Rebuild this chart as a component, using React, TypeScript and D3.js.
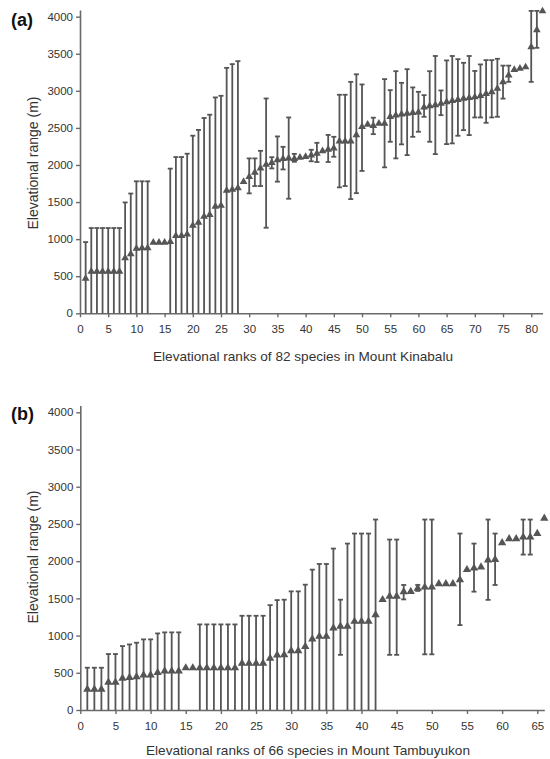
import React, { useEffect, useRef } from 'react';
import * as d3 from 'd3';

// (a) Mount Kinabalu: midpoint of each species' elevational range (m), ranked
const kinabaluMid = [
  470, 565, 565, 565, 565, 565, 565, 745, 800, 875,
  880, 880, 955, 955, 955, 965, 1045, 1045, 1065, 1185,
  1225, 1305, 1330, 1440, 1455, 1655, 1670, 1690, 1775, 1840,
  1900, 1955, 2005, 2030, 2066, 2085, 2090, 2085, 2100, 2110,
  2130, 2155, 2190, 2210, 2225, 2320, 2320, 2320, 2405, 2515,
  2545, 2530, 2560, 2560, 2650, 2670, 2685, 2695, 2705, 2710,
  2780, 2795, 2810, 2830, 2850, 2865, 2880, 2895, 2905, 2915,
  2935, 2960, 2985, 3030, 3120, 3210, 3285, 3300, 3320, 3590,
  3820, 4075,
];
// lower / upper limits of the range; null = no bar drawn
const kinabaluLow = [
  0, 0, 0, 0, 0, 0, 0, 0, 0, 0,
  0, 0, null, null, null, 0, 0, 0, 0, 0,
  0, 0, 0, 0, 0, 0, 0, 0, null, 1617,
  1716, 1716, 1154, 1954, 1775, 1940, 1545, 2043, null, null,
  2050, 2040, null, 2040, 2111, 1698, 1716, 1540, 1620, 1920,
  null, 2416, null, 1968, 2313, 2089, 2278, 2133, 2380, 2448,
  2650, 2313, 2147, 2672, 2282, 2291, 2394, 2470, 2403, 2641,
  2641, 2569, 2641, 2650, 2895, 3121, null, null, null, 3121,
  3580, null,
];
const kinabaluHigh = [
  960, 1150, 1150, 1150, 1150, 1150, 1150, 1495, 1615, 1780,
  1780, 1780, null, null, null, 1951, 2107, 2107, 2152, 2395,
  2473, 2634, 2678, 2911, 2933, 3310, 3360, 3400, null, 2089,
  2089, 2191, 2897, 2105, 2385, 2245, 2641, 2150, null, null,
  2205, 2299, null, 2405, 2380, 2947, 2947, 3121, 3223, 3086,
  null, 2638, null, 3158, 3009, 3265, 3108, 3292, 3046, 2987,
  2942, 3265, 3470, 3005, 3410, 3470, 3427, 3378, 3470, 3268,
  3356, 3414, 3414, 3432, 3340, 3340, null, null, null, 4078,
  4078, null,
];

// (b) Mount Tambuyukon
const tambuyukonMid = [
  278, 278, 278, 371, 371, 425, 437, 447, 470, 470,
  501, 523, 523, 523, 565, 565, 565, 565, 565, 565,
  565, 565, 626, 626, 626, 626, 694, 738, 741, 795,
  795, 853, 952, 988, 988, 1100, 1123, 1123, 1190, 1190,
  1190, 1280, 1482, 1527, 1527, 1588, 1590, 1635, 1650, 1650,
  1695, 1695, 1695, 1750, 1885, 1905, 1920, 2015, 2020, 2245,
  2299, 2299, 2322, 2322, 2371, 2575,
];
const tambuyukonLow = [
  0, 0, 0, 0, 0, 0, 0, 0, 0, 0,
  0, 0, 0, 0, null, null, 0, 0, 0, 0,
  0, 0, 0, 0, 0, 0, 0, 0, 0, 0,
  0, 0, 0, 0, 0, 0, 741, 0, 0, 0,
  0, 0, null, 741, 741, 1486, null, 1600, 748, 748,
  null, null, null, 1141, null, 1590, null, 1480, 1680, null,
  null, null, 2088, 2088, null, null,
];
const tambuyukonHigh = [
  568, 568, 568, 752, 752, 859, 881, 904, 949, 949,
  1029, 1043, 1043, 1043, null, null, 1150, 1150, 1150, 1150,
  1150, 1150, 1266, 1266, 1266, 1266, 1409, 1477, 1482, 1594,
  1594, 1684, 1886, 1962, 1962, 2169, 1482, 2236, 2371, 2371,
  2371, 2559, null, 2290, 2290, 1680, null, 1680, 2559, 2559,
  null, null, null, 2371, null, 2236, null, 2559, 2371, null,
  null, null, 2559, 2559, null, null,
];

const yTicks = [0, 500, 1000, 1500, 2000, 2500, 3000, 3500, 4000];
const kinabaluXTicks = [0, 5, 10, 15, 20, 25, 30, 35, 40, 45, 50, 55, 60, 65, 70, 75, 80];
const tambuyukonXTicks = [0, 5, 10, 15, 20, 25, 30, 35, 40, 45, 50, 55, 60, 65];

const FONT = '"Liberation Sans", Arial, sans-serif';
const INK = '#555';
const TEXT = '#333';

function drawPanel(g, p) {
  const x = d3.scaleLinear().domain([0, p.mid.length]).range([p.left, p.right]);
  const y = d3.scaleLinear().domain([0, 4090]).range([p.bottom, p.top]);
  const rows = p.mid.map((m, i) => ({ rank: i + 1, mid: m, lo: p.low[i], hi: p.high[i] }));

  // axes
  const yAxis = g.append('g')
    .attr('transform', `translate(${p.left},0)`)
    .call(d3.axisLeft(y).tickValues(yTicks).tickFormat(d3.format('d'))
      .tickSize(4).tickSizeOuter(0).tickPadding(3));
  const xAxis = g.append('g')
    .attr('transform', `translate(0,${p.bottom})`)
    .call(d3.axisBottom(x).tickValues(p.xTicks).tickFormat(d3.format('d'))
      .tickSize(4).tickSizeOuter(0).tickPadding(8));
  [yAxis, xAxis].forEach(a => {
    a.select('.domain').attr('stroke', '#6a6a6a').attr('stroke-width', 1.6);
    a.selectAll('.tick line').attr('stroke', '#6a6a6a').attr('stroke-width', 1.4);
    a.selectAll('.tick text').attr('fill', TEXT).style('font-family', FONT).style('font-size', '11.5px');
  });

  // error bars
  const bars = rows.filter(d => d.lo != null && d.hi != null);
  const eb = g.append('g').attr('stroke', INK).attr('stroke-width', 1.8).attr('fill', 'none');
  eb.selectAll('line.v').data(bars).join('line').attr('class', 'v')
    .attr('x1', d => x(d.rank)).attr('x2', d => x(d.rank))
    .attr('y1', d => y(d.lo)).attr('y2', d => y(d.hi));
  eb.selectAll('line.top').data(bars).join('line').attr('class', 'top')
    .attr('x1', d => x(d.rank) - 2.5).attr('x2', d => x(d.rank) + 2.5)
    .attr('y1', d => y(d.hi)).attr('y2', d => y(d.hi));
  eb.selectAll('line.bot').data(bars.filter(d => d.lo > 0)).join('line').attr('class', 'bot')
    .attr('x1', d => x(d.rank) - 2.5).attr('x2', d => x(d.rank) + 2.5)
    .attr('y1', d => y(d.lo)).attr('y2', d => y(d.lo));

  // midpoints
  const tri = d3.symbol(d3.symbolTriangle, p.markSize);
  g.append('g').selectAll('path').data(rows).join('path')
    .attr('d', tri)
    .attr('transform', d => `translate(${x(d.rank)},${y(d.mid)})`)
    .attr('fill', INK);

  // titles
  g.append('text')
    .attr('x', p.xTitleX).attr('y', p.xTitleY)
    .attr('text-anchor', 'middle')
    .style('font-family', FONT).style('font-size', '13.6px').attr('fill', TEXT)
    .text(p.xTitle);
  g.append('text')
    .attr('transform', `translate(38,${p.yTitleY}) rotate(-90)`)
    .attr('text-anchor', 'middle')
    .style('font-family', FONT).style('font-size', '14px').attr('fill', TEXT)
    .text('Elevational range (m)');
  g.append('text')
    .attr('x', 11).attr('y', p.tagY)
    .style('font-family', FONT).style('font-size', '18px').style('font-weight', 'bold').attr('fill', '#111')
    .text(p.tag);
}

export default function App() {
  const ref = useRef<SVGSVGElement>(null);

  useEffect(() => {
    const svg = d3.select(ref.current);
    svg.selectAll('*').remove();
    drawPanel(svg.append('g'), {
      mid: kinabaluMid, low: kinabaluLow, high: kinabaluHigh, xTicks: kinabaluXTicks,
      left: 80, right: 542.5, top: 10, bottom: 313.3, markSize: 26,
      xTitle: 'Elevational ranks of 82 species in Mount Kinabalu', xTitleX: 303, xTitleY: 361,
      yTitleY: 163, tag: '(a)', tagY: 26,
    });
    drawPanel(svg.append('g'), {
      mid: tambuyukonMid, low: tambuyukonLow, high: tambuyukonHigh, xTicks: tambuyukonXTicks,
      left: 80.3, right: 544.3, top: 405.6, bottom: 710, markSize: 30,
      xTitle: 'Elevational ranks of 66 species in Mount Tambuyukon', xTitleX: 308, xTitleY: 755,
      yTitleY: 557, tag: '(b)', tagY: 420,
    });
  }, []);

  return (
    <svg ref={ref} width={550} height={759}
      style={{ position: 'absolute', left: 0, top: 0, background: '#fff' }} />
  );
}
